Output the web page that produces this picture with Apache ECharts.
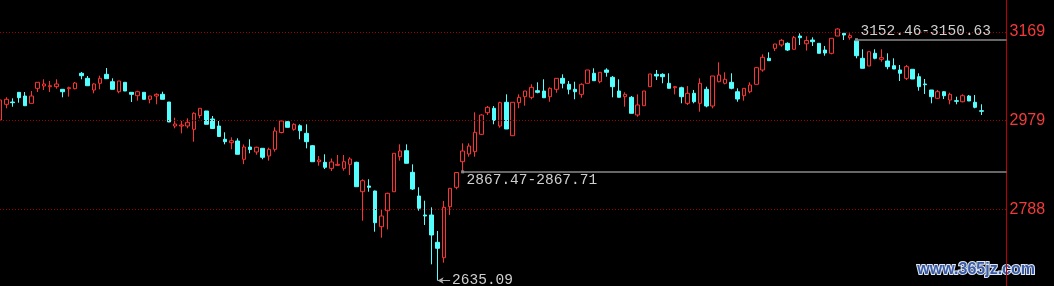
<!DOCTYPE html>
<html>
<head>
<meta charset="utf-8">
<style>
html,body{margin:0;padding:0;background:#000;}
#chart{width:1054px;height:286px;}
</style>
<script src="https://cdn.jsdelivr.net/npm/echarts@6/dist/echarts.min.js"></script>
</head>
<body>
<div id="chart"></div>
<script>
// ---- data ----
const opens = [
2979.9,3013.7,3018.6,3039.4,3031.5,3015.8,3048.0,3053.0,3051.5,3051.5,
3045.9,3047.2,3047.2,3080.3,3069.5,3044.4,3058.8,3078.1,3062.2,3040.7,
3060.9,3039.4,3032.1,3039.4,3024.4,3031.5,3035.1,3018.6,2967.0,2967.0,
2967.0,2959.9,2989.6,2999.3,2982.1,2967.0,2938.5,2931.1,2934.8,2895.5,
2921.9,2911.2,2919.1,2902.6,2916.9,2953.1,2976.3,2959.9,2967.7,2951.3,
2924.7,2890.3,2889.0,2876.1,2882.6,2876.1,2884.7,2889.0,2825.8,2838.1,
2827.3,2750.6,2785.0,2825.8,2901.0,2913.9,2867.5,2816.6,2775.8,2775.8,
2717.1,2684.0,2793.6,2835.3,2890.3,2906.9,2911.8,2949.2,2995.6,3005.1,
2967.0,3018.0,2946.2,3017.1,3030.0,3028.7,3042.9,3042.2,3030.0,3045.9,
3069.5,3056.6,3045.9,3035.1,3058.8,3080.3,3062.2,3087.4,3071.7,3042.2,
3030.0,3028.7,2990.7,3010.6,3051.5,3078.1,3078.1,3058.8,3049.3,3049.3,
3015.8,3037.3,3015.8,3045.9,3010.0,3062.2,3058.8,3060.9,3040.7,3032.1,
3040.7,3056.6,3087.4,3112.5,3134.0,3141.1,3144.7,3131.9,3160.4,3143.7,
3151.8,3144.7,3130.3,3123.3,3160.4,3166.2,3156.8,3150.0,3112.5,3096.0,
3123.3,3110.4,3106.7,3096.6,3087.4,3069.5,3088.9,3073.0,3057.3,3044.4,
3026.6,3040.7,3022.9,3021.4,3019.2,3031.5,3018.0,2999.9
];
const closes = [
3022.9,3024.4,3017.1,3027.8,3010.6,3031.5,3060.9,3057.3,3053.6,3057.3,
3040.7,3049.3,3059.4,3075.1,3053.6,3057.3,3069.5,3068.7,3045.9,3063.7,
3042.2,3035.1,3040.7,3024.4,3031.5,3035.1,3024.4,2975.6,2971.3,2969.2,
2975.0,2994.3,3005.1,2970.7,2961.6,2944.5,2933.3,2935.4,2906.2,2921.9,
2916.5,2921.3,2899.8,2916.9,2956.3,2977.8,2964.2,2970.7,2956.9,2933.3,
2890.3,2894.0,2878.3,2889.7,2884.7,2890.3,2896.1,2836.6,2849.5,2835.3,
2759.2,2773.6,2822.4,2908.4,2913.3,2886.9,2831.6,2790.2,2773.6,2732.8,
2704.2,2792.3,2833.1,2867.0,2913.3,2924.0,2953.5,2990.7,3007.2,2978.8,
3017.1,2960.6,3018.0,3028.7,3042.2,3050.2,3039.4,3027.8,3048.0,3069.5,
3058.8,3045.9,3040.7,3056.6,3087.4,3064.4,3082.4,3082.4,3051.5,3028.7,
3035.1,2994.3,3012.2,3042.2,3078.8,3074.5,3073.0,3048.0,3051.5,3030.0,
3037.3,3019.2,3058.8,3010.0,3074.5,3076.6,3067.4,3048.0,3025.0,3048.0,
3055.1,3092.3,3114.7,3107.4,3143.2,3151.2,3130.3,3156.8,3156.8,3150.8,
3148.2,3123.3,3123.9,3155.5,3175.5,3162.6,3161.1,3118.1,3091.0,3126.7,
3112.5,3113.8,3094.5,3089.5,3080.3,3094.5,3068.0,3051.5,3055.8,3030.0,
3040.7,3032.1,3035.1,3020.1,3032.1,3020.8,3007.2,2998.6
];
const lows = [
2978.4,3005.1,3008.5,3017.1,3010.6,3015.8,3040.1,3044.4,3040.1,3047.2,
3028.7,3030.0,3045.9,3067.4,3053.6,3037.3,3045.9,3068.7,3045.9,3037.3,
3042.2,3018.6,3021.4,3024.4,3015.8,3013.7,3024.4,2975.6,2962.1,2951.3,
2962.1,2933.3,2983.6,2970.7,2961.6,2943.4,2927.7,2917.0,2906.2,2885.0,
2908.4,2905.3,2895.5,2892.5,2911.8,2951.3,2964.2,2956.9,2938.5,2919.1,
2890.3,2881.7,2874.6,2870.3,2881.1,2871.0,2861.7,2836.6,2763.5,2825.8,
2739.9,2727.0,2745.0,2825.8,2892.5,2886.9,2829.5,2785.0,2754.3,2669.8,
2635.09,2673.3,2775.8,2831.0,2867.71,2901.0,2901.0,2947.7,2990.7,2970.7,
2963.4,2960.6,2946.2,3005.1,3010.6,3024.4,3037.3,3027.8,3019.2,3038.6,
3048.0,3035.1,3024.4,3027.8,3058.8,3064.4,3058.8,3073.0,3028.7,3028.7,
3008.5,2994.3,2987.0,3010.6,3051.5,3065.9,3058.8,3048.0,3035.1,3015.8,
3012.2,3015.8,2997.8,3007.2,3005.1,3060.9,3056.6,3045.9,3019.2,3021.4,
3037.3,3056.6,3083.7,3107.4,3128.2,3137.4,3128.2,3131.9,3141.1,3129.3,
3139.0,3123.3,3118.1,3121.1,3160.4,3151.8,3152.46,3112.5,3091.0,3096.0,
3110.4,3105.2,3088.9,3089.5,3063.7,3065.9,3068.0,3042.9,3035.8,3015.8,
3025.0,3025.0,3013.7,3013.7,3018.0,3020.8,3005.1,2990.7
];
const highs = [
3031.5,3028.7,3026.5,3039.4,3040.1,3042.2,3060.9,3067.4,3063.7,3067.4,
3045.9,3051.5,3061.6,3083.1,3074.5,3058.8,3075.1,3091.7,3069.5,3063.7,
3060.9,3039.4,3042.9,3039.4,3031.5,3037.3,3040.7,3018.6,2984.9,2977.8,
2983.6,2996.5,3005.1,2999.3,2988.5,2977.8,2953.5,2942.7,2940.6,2927.3,
2938.5,2922.5,2919.1,2920.4,2964.2,2978.4,2977.8,2972.8,2970.7,2970.7,
2926.2,2902.6,2906.2,2897.2,2904.7,2904.7,2899.8,2890.3,2852.5,2852.5,
2828.4,2786.5,2823.7,2908.4,2927.7,2927.7,2884.7,2835.3,2806.5,2792.3,
2741.4,2805.9,2833.1,2867.47,2929.8,2929.8,2996.5,2992.2,3010.0,3010.0,
3019.2,3035.1,3018.0,3035.1,3042.2,3056.6,3060.9,3067.4,3050.2,3069.5,
3078.1,3063.7,3062.2,3058.8,3087.4,3091.0,3082.4,3091.0,3074.5,3067.4,
3039.4,3031.5,3035.1,3042.2,3078.8,3087.4,3080.3,3080.3,3053.0,3051.5,
3053.0,3044.4,3069.5,3051.5,3074.5,3103.9,3082.4,3080.3,3048.0,3048.0,
3060.9,3093.8,3121.1,3125.4,3143.2,3154.0,3146.9,3160.4,3166.2,3159.8,
3157.6,3144.7,3139.0,3155.5,3177.0,3166.2,3166.2,3150.63,3131.9,3126.7,
3131.9,3131.9,3123.3,3112.5,3098.1,3098.1,3088.9,3080.3,3068.0,3044.4,
3044.4,3042.2,3038.6,3030.0,3035.1,3033.6,3033.6,3013.7
];
const yTicks = [3169, 2979, 2788];
// gap annotations: [start candle index, line value, text, label position]
const gapMarks = [
  [137, 3152.5, '3152.46-3150.63', 'insideStartTop'],
  [74, 2868.5, '2867.47-2867.71', 'insideStartBottom']
];
const lowMark = [70, 2635.09, '2635.09'];
const slotCount = 162; // candles plus empty slots up to the price axis
const categories = Array.from({length: slotCount}, (_, i) => 'K' + (i + 1));

// ---- chart ----
const RED = '#ff3232', CYAN = '#54ffff';
const candleData = opens.map((o, i) => [o, closes[i], lows[i], highs[i]]);
const lastCat = categories[slotCount - 1];

const markData = [];
yTicks.forEach(v => markData.push({
  yAxis: v, symbol: 'none',
  lineStyle: {color: '#a00000', type: [1, 2], width: 1},
  label: {show: false}
}));
gapMarks.forEach(g => markData.push([
  {coord: [categories[g[0]], g[1]], symbol: 'rect', symbolSize: 3,
   itemStyle: {color: '#e8a8a8'},
   lineStyle: {color: '#8a8a8a', width: 1.5, type: 'solid'},
   label: {show: true, position: g[3], formatter: g[2], color: '#cfcfcf',
           fontFamily: 'Liberation Mono', fontSize: 14.5, distance: [4, 1]}},
  {coord: [lastCat, g[1]], symbol: 'none'}
]));
markData.push([
  {coord: [categories[lowMark[0]], lowMark[1]], symbol: 'arrow', symbolSize: [5, 6],
   itemStyle: {color: '#b0b0b0'},
   lineStyle: {color: '#b0b0b0', width: 1, type: 'solid'},
   label: {show: true, position: 'end', formatter: lowMark[2], color: '#cfcfcf',
           fontFamily: 'Liberation Mono', fontSize: 14.5, distance: 2}},
  {coord: [categories[lowMark[0] + 2], lowMark[1]], symbol: 'none'}
]);

const chart = echarts.init(document.getElementById('chart'), null, {renderer: 'canvas'});
chart.setOption({
  backgroundColor: '#000',
  animation: false,
  grid: {left: 0, right: 47.5, top: 0, bottom: 0, containLabel: false, outerBoundsMode: 'none'},
  xAxis: {
    type: 'category', data: categories, boundaryGap: false,
    axisLine: {show: false}, axisTick: {show: false}, axisLabel: {show: false}, splitLine: {show: false}
  },
  yAxis: {
    type: 'value', position: 'right', min: 2623.2, max: 3237.8,
    axisLine: {show: true, lineStyle: {color: '#c00000', width: 1}},
    axisTick: {show: false},
    splitLine: {show: false},
    axisLabel: {show: true, customValues: yTicks, color: '#f23a3a', fontSize: 16,
                fontFamily: 'Liberation Sans', margin: 3,
                formatter: v => String(Math.round(v))}
  },
  graphic: [{
    type: 'text', right: 18, bottom: 7,
    style: {text: 'www.365jz.com', font: 'bold 16px "Liberation Sans"', fill: '#3b5ba5',
            stroke: '#dfe8f5', lineWidth: 2}
  }],
  series: [{
    type: 'candlestick',
    data: candleData,
    barWidth: 4,
    itemStyle: {color: '#000', color0: CYAN, borderColor: RED, borderColor0: CYAN, borderWidth: 1},
    markLine: {silent: true, animation: false, symbol: ['none', 'none'], data: markData}
  }]
});
</script>
</body>
</html>
